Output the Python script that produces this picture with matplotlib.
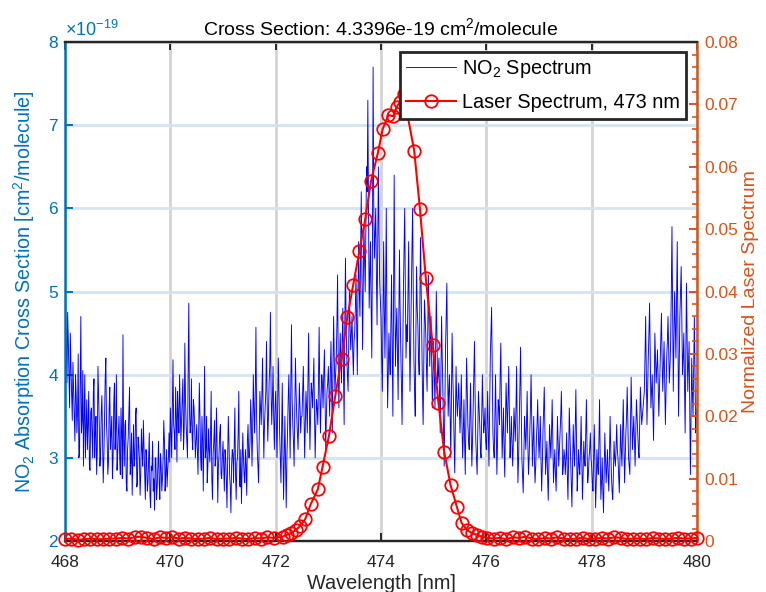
"""NO2 absorption cross section vs. 473 nm laser spectrum (two y axes)."""

import matplotlib
matplotlib.use("Agg")
import matplotlib.pyplot as plt
import numpy as np
from matplotlib.ticker import FuncFormatter, MultipleLocator

plt.rcParams["font.family"] = ["Liberation Sans", "DejaVu Sans"]
plt.rcParams["mathtext.fontset"] = "custom"
plt.rcParams["mathtext.rm"] = "Liberation Sans"
plt.rcParams["mathtext.it"] = "Liberation Sans:italic"
plt.rcParams["mathtext.bf"] = "Liberation Sans:bold"

# NO2 cross section from 468 to 480 nm in units of 0.01e-19 cm^2/molecule.
# no2_on_grid: samples every 0.025 nm (one row = 0.5 nm)
# no2_between: the samples half-way between those (one row = 0.5 nm)
no2_start, no2_stop = 468.0, 480.0
no2_on_grid = [
    540, 430, 475, 395, 450, 380, 415, 350, 400, 330, 425, 305, 470, 345, 290, 400, 335, 310, 380, 285,
    360, 300, 395, 330, 280, 410, 340, 305, 375, 270, 350, 420, 320, 295, 385, 330, 275, 365, 310, 400,
    305, 350, 280, 330, 448, 290, 345, 260, 325, 385, 295, 255, 340, 300, 360, 270, 315, 255, 335, 290,
    310, 250, 295, 270, 330, 240, 285, 260, 237, 300, 265, 320, 250, 290, 275, 345, 260, 310, 285, 330,
    360, 300, 418, 330, 385, 295, 350, 400, 320, 370, 310, 438, 340, 300, 486, 330, 395, 310, 360, 300,
    340, 280, 390, 300, 350, 260, 410, 310, 270, 335, 295, 380, 250, 320, 290, 360, 246, 305, 340, 275,
    320, 260, 300, 240, 350, 280, 234, 310, 270, 360, 250, 300, 380, 265, 245, 330, 280, 310, 255, 340,
    300, 370, 290, 400, 330, 457, 310, 270, 380, 340, 420, 300, 360, 440, 320, 390, 475, 340, 410, 310,
    380, 300, 420, 330, 270, 390, 250, 350, 240, 330, 400, 300, 460, 340, 290, 420, 350, 310, 390, 330,
    350, 410, 300, 380, 330, 450, 310, 390, 360, 420, 300, 370, 340, 457, 330, 400, 360, 430, 310, 380,
    410, 350, 440, 330, 470, 380, 420, 520, 360, 450, 390, 480, 340, 540, 420, 380, 500, 430, 470, 400,
    450, 520, 400, 560, 470, 620, 430, 580, 500, 650, 730, 480, 560, 420, 770, 540, 600, 460, 650, 510,
    470, 380, 560, 420, 600, 360, 450, 400, 520, 350, 640, 410, 480, 370, 550, 430, 340, 500, 600, 420,
    440, 560, 380, 500, 600, 420, 350, 530, 460, 400, 565, 430, 340, 490, 450, 380, 520, 410, 470, 360,
    440, 360, 500, 390, 420, 330, 470, 380, 290, 430, 510, 350, 400, 300, 450, 370, 282, 410, 350, 390,
    330, 400, 300, 370, 280, 420, 340, 310, 390, 290, 360, 440, 320, 280, 380, 340, 300, 400, 330, 360,
    310, 380, 290, 420, 481, 330, 300, 400, 280, 370, 340, 438, 300, 360, 277, 390, 330, 410, 300, 350,
    290, 360, 320, 410, 270, 340, 433, 300, 258, 350, 310, 380, 280, 330, 400, 290, 350, 270, 320, 370,
    300, 350, 260, 330, 385, 280, 320, 249, 340, 300, 370, 270, 310, 260, 350, 290, 330, 380, 280, 310,
    280, 330, 250, 360, 300, 241, 340, 290, 382, 260, 310, 280, 350, 250, 320, 290, 370, 270, 300, 330,
    290, 260, 340, 240, 310, 280, 370, 250, 300, 234, 330, 270, 310, 260, 350, 280, 250, 320, 290, 340,
    300, 258, 340, 290, 370, 270, 330, 385, 300, 280, 397, 310, 350, 290, 370, 330, 300, 385, 340, 360,
    380, 470, 340, 420, 486, 360, 400, 321, 450, 390, 430, 350, 410, 474, 380, 440, 340, 420, 470, 390,
    440, 578, 380, 500, 420, 560, 350, 470, 530, 400, 450, 330, 510, 380, 440, 280, 420, 350, 470, 330,
    360,
]
no2_between = [
    470, 390, 440, 360, 410, 345, 380, 320, 375, 355, 300, 390, 330, 405, 350, 300, 370, 340, 290, 355,
    330, 380, 300, 350, 310, 375, 290, 355, 320, 300, 395, 340, 280, 360, 310, 350, 300, 390, 335, 285,
    330, 300, 360, 275, 320, 340, 270, 310, 355, 280, 330, 300, 290, 350, 265, 325, 300, 280, 310, 345,
    280, 310, 260, 300, 255, 290, 320, 275, 300, 250, 290, 270, 305, 260, 300, 320, 280, 265, 300, 295,
    330, 360, 340, 310, 350, 380, 330, 360, 345, 395, 335, 370, 320, 405, 360, 340, 325, 370, 335, 320,
    310, 330, 350, 285, 320, 340, 300, 350, 290, 310, 330, 275, 305, 345, 300, 315, 290, 330, 280, 300,
    290, 310, 275, 300, 320, 265, 290, 305, 315, 280, 295, 330, 270, 310, 290, 300, 270, 290, 320, 300,
    320, 345, 330, 360, 380, 350, 290, 330, 360, 375, 350, 340, 380, 370, 350, 410, 380, 370, 350, 360,
    345, 360, 380, 300, 330, 310, 300, 290, 300, 370, 345, 390, 370, 320, 360, 380, 330, 350, 360, 350,
    380, 350, 340, 360, 390, 370, 350, 380, 390, 350, 340, 360, 390, 380, 370, 390, 400, 370, 350, 390,
    380, 400, 380, 410, 420, 400, 460, 420, 410, 420, 440, 400, 460, 460, 400, 440, 460, 450, 430, 440,
    480, 460, 500, 500, 540, 520, 510, 540, 580, 620, 600, 520, 480, 560, 600, 570, 520, 560, 570, 490,
    420, 460, 480, 500, 450, 400, 420, 460, 440, 480, 500, 450, 420, 460, 480, 390, 420, 550, 500, 460,
    500, 460, 440, 550, 500, 380, 450, 480, 420, 480, 500, 380, 420, 470, 410, 450, 460, 440, 410, 400,
    400, 430, 440, 400, 370, 400, 420, 330, 360, 470, 420, 380, 350, 380, 400, 320, 350, 370, 370, 360,
    360, 340, 330, 320, 350, 380, 320, 350, 330, 320, 400, 370, 300, 330, 360, 310, 350, 360, 340, 320,
    340, 330, 350, 450, 400, 310, 350, 340, 320, 360, 400, 360, 330, 310, 340, 360, 370, 350, 320, 320,
    320, 340, 360, 330, 300, 390, 360, 280, 300, 330, 340, 320, 300, 360, 340, 320, 300, 290, 340, 330,
    320, 300, 290, 360, 330, 300, 280, 290, 320, 330, 320, 290, 280, 300, 320, 310, 350, 330, 290, 300,
    300, 280, 300, 330, 270, 290, 310, 340, 320, 280, 290, 310, 300, 280, 300, 330, 310, 280, 310, 300,
    270, 300, 290, 270, 290, 320, 300, 270, 260, 280, 300, 290, 280, 300, 310, 260, 280, 300, 310, 310,
    280, 300, 310, 330, 320, 300, 350, 340, 290, 340, 350, 330, 320, 330, 350, 310, 340, 360, 350, 370,
    420, 400, 380, 450, 420, 380, 360, 380, 420, 410, 390, 380, 440, 420, 410, 390, 380, 440, 430, 410,
    500, 480, 440, 460, 490, 450, 410, 500, 460, 420, 390, 420, 450, 410, 360, 350, 380, 410, 400, 350,
]

# laser spectrum: flat wings (units of 1e-4) and the measured line itself
laser_left_flat = [3, 4, 2, 3, 4, 3, 3, 4, 4, 5, 4, 6, 7, 5, 3, 6, 5, 6, 4, 5,
                   4, 3, 4, 5, 3, 4, 4, 5, 4, 3, 5, 4, 6, 5]
laser_right_flat = [4, 5, 3, 6, 5, 7, 4, 3, 5, 4, 6, 4, 3, 4, 5, 3, 4, 5, 4, 6,
                    5, 3, 4, 4, 3, 5, 4, 3, 4, 5, 4, 4, 5]
laser_line_nm = [472.13, 472.21, 472.30, 472.39, 472.46, 472.56, 472.67, 472.80,
                 472.89, 473.01, 473.13, 473.25, 473.36, 473.47, 473.59, 473.70,
                 473.81, 473.94, 474.03, 474.14, 474.23, 474.30, 474.36, 474.43,
                 474.49, 474.63, 474.74, 474.85, 474.98, 475.09, 475.20, 475.32,
                 475.44, 475.53, 475.63, 475.72, 475.82, 475.91, 476.02]
laser_line_val = [0.0007, 0.0010, 0.0013, 0.0018, 0.0024, 0.0035, 0.0060, 0.0083,
                  0.0119, 0.0168, 0.0232, 0.0292, 0.0359, 0.0410, 0.0465, 0.0516,
                  0.0577, 0.0622, 0.0660, 0.0683, 0.0681, 0.0696, 0.0704, 0.0716,
                  0.0689, 0.0626, 0.0532, 0.0422, 0.0315, 0.0222, 0.0143, 0.0090,
                  0.0055, 0.0029, 0.0018, 0.0013, 0.0010, 0.0007, 0.0005]

title_text = "Cross Section: 4.3396e-19 cm$^2$/molecule"
left_color = "#0072BD"
right_color = "#D95319"
text_color = "#262626"

no2_vals = np.empty(len(no2_on_grid) + len(no2_between))
no2_vals[0::2] = no2_on_grid
no2_vals[1::2] = no2_between
no2_vals = no2_vals / 100.0
no2_nm = np.linspace(no2_start, no2_stop, len(no2_vals))

laser_nm = np.concatenate([
    np.linspace(468.0, 471.96, len(laser_left_flat)),
    laser_line_nm,
    np.linspace(476.14, 480.0, len(laser_right_flat)),
])
laser_val = np.concatenate([
    np.array(laser_left_flat) * 1e-4,
    laser_line_val,
    np.array(laser_right_flat) * 1e-4,
])

fig = plt.figure(figsize=(7.66, 5.92), dpi=100)
ax = fig.add_axes([0.0849, 0.0861, 0.825, 0.8429])

ax.grid(axis="x", color="#d4d4d4", linewidth=2)
ax.grid(axis="y", color="#d5e4f1", linewidth=2)
ax.set_axisbelow(True)

(no2_line,) = ax.plot(no2_nm, no2_vals, color="#0000ff", linewidth=0.65)
ax.set_xlim(468, 480)
ax.set_ylim(2, 8)
ax.xaxis.set_major_locator(MultipleLocator(2))
ax.yaxis.set_major_locator(MultipleLocator(1))

ax2 = ax.twinx()
(laser_line,) = ax2.plot(laser_nm, laser_val, "-o", color="red", linewidth=1.5,
                         markersize=9, markerfacecolor="none", markeredgewidth=1.3,
                         clip_on=False, zorder=3)
ax2.set_ylim(0, 0.08)
ax2.yaxis.set_major_locator(MultipleLocator(0.01))
ax2.yaxis.set_minor_locator(MultipleLocator(0.002))
ax2.yaxis.set_major_formatter(FuncFormatter(lambda v, _: f"{v:g}"))

for a in (ax, ax2):
    a.spines["top"].set_color("#262626")
    a.spines["bottom"].set_color("#262626")
    a.spines["top"].set_linewidth(1.6)
    a.spines["bottom"].set_linewidth(1.6)
ax.spines["left"].set_color(left_color)
ax.spines["left"].set_linewidth(1.8)
ax.spines["right"].set_visible(False)
ax2.spines["left"].set_visible(False)
ax2.spines["right"].set_color(right_color)
ax2.spines["right"].set_linewidth(1.8)

ax.tick_params(axis="x", direction="in", top=True, length=6, width=1.4,
               labelsize=12.5, colors=text_color, pad=10)
ax.tick_params(axis="y", direction="in", length=6, width=1.4, labelsize=12.5,
               colors=left_color, pad=5)
ax2.tick_params(axis="y", which="major", direction="in", length=6, width=1.4,
                labelsize=12.5, colors=right_color, pad=5)
ax2.tick_params(axis="y", which="minor", direction="in", length=3.5, width=1.2,
                colors=right_color)

ax.set_title(title_text, fontsize=14, color="black", pad=5)
ax.text(0.0, 1.004, r"$\times$10$^{-19}$", transform=ax.transAxes,
        color=left_color, fontsize=13, va="bottom", ha="left")
ax.set_xlabel("Wavelength [nm]", fontsize=14.3, color=text_color, labelpad=3)
ax.set_ylabel("NO$_2$ Absorption Cross Section [cm$^2$/molecule]",
              fontsize=14.2, color=left_color, labelpad=8.5)
ax2.set_ylabel("Normalized Laser Spectrum", fontsize=14, color=right_color,
               labelpad=3)

legend = ax2.legend([no2_line, laser_line],
                    ["NO$_2$ Spectrum", "Laser Spectrum, 473 nm"],
                    loc="upper right", bbox_to_anchor=(0.983, 0.98),
                    fontsize=14.3, fancybox=False, framealpha=1,
                    edgecolor="#262626", borderpad=0.32, labelspacing=0.65,
                    handlelength=2.5, handletextpad=0.3, borderaxespad=0)
legend.get_frame().set_linewidth(2)
legend.set_zorder(10)

fig.savefig("out.png", dpi=100)
